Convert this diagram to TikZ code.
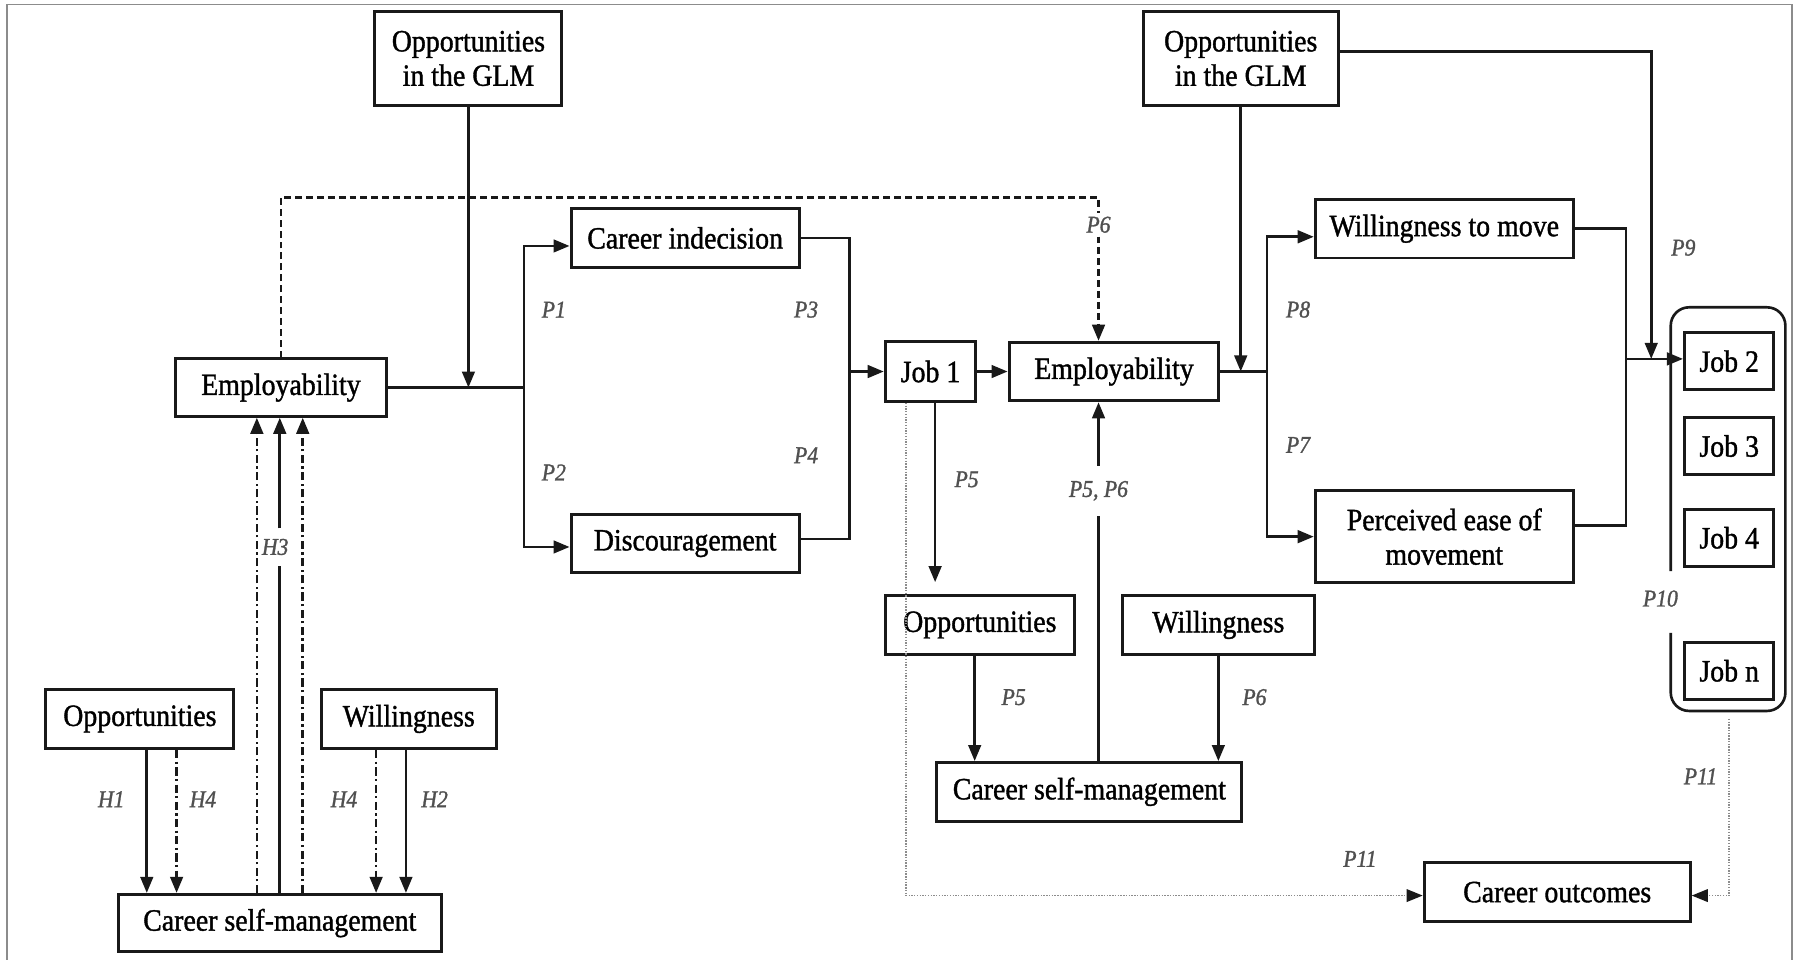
\documentclass[tikz,border=0pt]{standalone}
\usepackage{fontspec}
\setmainfont{Liberation Serif}[FakeStretch=0.9, FakeBold=1.2]
\usetikzlibrary{arrows.meta}
\definecolor{ink}{RGB}{25,25,25}
\definecolor{lbl}{RGB}{80,80,80}
\definecolor{framec}{RGB}{140,140,140}
\definecolor{dotc}{RGB}{140,140,140}
\tikzset{
  box/.style={draw=ink, line width=2.6pt, inner sep=0pt, align=center,
    font=\fontsize{27}{30}\selectfont, text=black},
  tag/.style={font=\fontsize{21}{24}\selectfont\itshape, text=lbl, inner sep=2pt},
  conn/.style={draw=ink, line width=2.3pt},
  tip/.style={-{Triangle[length=14pt,width=11pt]}},
  arr/.style={conn, tip},
  darr/.style={conn, tip, dash pattern=on 6pt off 3.5pt},
  dline/.style={conn, dash pattern=on 6pt off 3.5pt},
  ddarr/.style={conn, tip, dash pattern=on 7pt off 3pt on 2pt off 3pt},
  dotarr/.style={draw=dotc, line width=1.4pt, dash pattern=on 1.2pt off 1.2pt,
    -{Triangle[length=14pt,width=11pt,color=ink]}},
}
\begin{document}
\begin{tikzpicture}[x=1pt,y=-1pt]
\useasboundingbox (0,0) rectangle (1568,837);
% outer frame
\draw[framec, line width=1.4pt] (6,840) -- (6,4) -- (1563,4) -- (1563,840);

% ---------- boxes ----------
\node[box, minimum width=163pt, minimum height=82pt] (glmA) at (408.5,51) {Opportunities\\in the GLM};
\node[box, minimum width=170pt, minimum height=82pt] (glmB) at (1082,51) {Opportunities\\in the GLM};
\node[box, minimum width=184pt, minimum height=50pt] (empA) at (245,338) {Employability};
\node[box, minimum width=199pt, minimum height=51pt] (indec) at (597.5,207.5) {Career indecision};
\node[box, minimum width=199pt, minimum height=50pt] (disc) at (597.5,474) {Discouragement};
\node[box, minimum width=79pt, minimum height=52pt] (job1) at (811.5,324) {Job 1};
\node[box, minimum width=183pt, minimum height=51pt] (empB) at (971.5,324) {Employability};
\node[box, minimum width=225pt, minimum height=51pt] (wmove) at (1259.5,199.5) {Willingness to move};
\node[box, minimum width=225pt, minimum height=80pt] (ease) at (1259.5,468) {Perceived ease of\\movement};
\node[box, minimum width=165pt, minimum height=52pt] (oppB) at (854.5,545) {Opportunities};
\node[box, minimum width=167pt, minimum height=52pt] (willB) at (1062.5,545) {Willingness};
\node[box, minimum width=266pt, minimum height=51pt] (csmB) at (950,690.5) {Career self-management};
\node[box, minimum width=232pt, minimum height=52pt] (outc) at (1358,778) {Career outcomes};
\node[box, minimum width=164pt, minimum height=52pt] (oppA) at (122,627) {Opportunities};
\node[box, minimum width=153pt, minimum height=52pt] (willA) at (356.5,627) {Willingness};
\node[box, minimum width=282pt, minimum height=50pt] (csmA) at (244,805) {Career self-management};

% job sequence
\node[box, minimum width=78pt, minimum height=50pt] (job2) at (1508,315) {Job 2};
\node[box, minimum width=78pt, minimum height=50pt] (job3) at (1508,389) {Job 3};
\node[box, minimum width=78pt, minimum height=50pt] (job4) at (1508,469) {Job 4};
\node[box, minimum width=78pt, minimum height=50pt] (jobn) at (1508,585) {Job n};
\draw[conn, line width=2.3pt, rounded corners=16pt]
  (1457,498) -- (1457,268) -- (1557,268) -- (1557,620) -- (1457,620) -- (1457,552);
\coordinate (jobsFoot) at (1508,627);

% ---------- labels ----------
\node[tag] at (483,270) {P1};
\node[tag] at (483,412) {P2};
\node[tag] at (703,270) {P3};
\node[tag] at (703,397) {P4};
\node[tag] at (843,418) {P5};
\node[tag] at (1132,270) {P8};
\node[tag] at (1132,388) {P7};
\node[tag] at (1468,216) {P9};
\node[tag] at (1448,522) {P10};
\node[tag] at (1483,677) {P11};
\node[tag] at (1186,749) {P11};
\node[tag] at (884,608) {P5};
\node[tag] at (1094,608) {P6};
\node[tag] at (97,697) {H1};
\node[tag] at (177,697) {H4};
\node[tag] at (300,697) {H4};
\node[tag] at (379,697) {H2};
\node[tag, inner ysep=3pt] (p6top) at (958,196) {P6};
\node[tag, inner ysep=13pt] (p56) at (958,428) {P5, P6};
\node[tag, inner ysep=9pt] (h3) at (240,477) {H3};

% ---------- connectors: first stage ----------
\coordinate (splitA) at (457,338);
\draw[conn] (empA.east) -- (splitA);
\draw[arr] (glmA.south) -- (glmA.south |- empA.east);
\draw[arr] (splitA) |- ([yshift=-7pt]indec.west);
\draw[arr] (splitA) |- ([yshift=-3pt]disc.west);
\coordinate (mergeA) at (741,324);
\draw[conn] (indec.east) -| (mergeA) |- ([yshift=4pt]disc.east);
\draw[arr] (mergeA) -- (job1.west);
\draw[arr] (job1.east) -- (empB.west);

% feedback of employability
\coordinate (dashL) at (245,172);
\coordinate (dashR) at (958,172);
\draw[dline] (empA.north) -- (dashL) -- (dashR) -- (p6top.north);
\draw[darr] (p6top.south) -- (p6top.south |- empB.north);

% ---------- connectors: second stage ----------
\coordinate (splitB) at (1105,324);
\draw[conn] (empB.east) -- (splitB);
\draw[arr] (glmB.south) -- (glmB.south |- splitB);
\draw[arr] (splitB) |- ([yshift=-7pt]wmove.west);
\draw[arr] (splitB) |- (ease.west);
\coordinate (mergeB) at (1418,313);
\draw[conn] (wmove.east) -| (mergeB) |- ([yshift=10pt]ease.east);
\draw[arr] (mergeB) -- (mergeB -| job2.west);
\coordinate (glmTurn) at (1440,313);
\draw[arr] ([yshift=6pt]glmB.east) -| (glmTurn);

% job 1 to self-management
\draw[arr, shorten >=10pt] ([xshift=4pt]job1.south) -- ([xshift=4pt]job1.south |- oppB.north);
\draw[arr] ([xshift=-4.5pt]oppB.south) -- ([xshift=-4.5pt]oppB.south |- csmB.north);
\draw[arr] (willB.south) -- (willB.south |- csmB.north);
\draw[conn] ([xshift=8pt]csmB.north) -- (p56.south);
\draw[arr] (p56.north) -- (p56.north |- empB.south);

% career outcomes
\draw[dotarr] ([xshift=-21.5pt]job1.south) |- ([yshift=-3pt]outc.west);
\draw[dotarr] (jobsFoot) |- ([yshift=-3pt]outc.east);

% ---------- connectors: hypotheses ----------
\draw[arr] ([xshift=6pt]oppA.south) -- ([xshift=6pt]oppA.south |- csmA.north);
\draw[ddarr] ([xshift=32pt]oppA.south) -- ([xshift=32pt]oppA.south |- csmA.north);
\draw[ddarr] ([xshift=-28.5pt]willA.south) -- ([xshift=-28.5pt]willA.south |- csmA.north);
\draw[arr] ([xshift=-2.5pt]willA.south) -- ([xshift=-2.5pt]willA.south |- csmA.north);
\draw[ddarr] ([xshift=-20pt]csmA.north) -- ([xshift=-20pt]csmA.north |- empA.south);
\draw[ddarr] ([xshift=20pt]csmA.north) -- ([xshift=20pt]csmA.north |- empA.south);
\draw[conn] (csmA.north) -- (csmA.north |- h3.south);
\draw[arr] (csmA.north |- h3.north) -- (csmA.north |- empA.south);
\end{tikzpicture}
\end{document}
